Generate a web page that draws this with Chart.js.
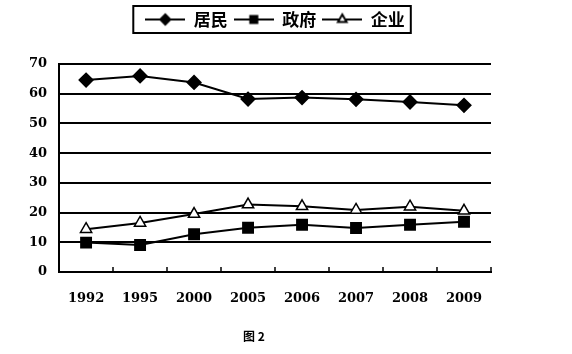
<!DOCTYPE html>
<html>
<head>
<meta charset="utf-8">
<script src="https://cdn.jsdelivr.net/npm/chart.js@4"></script>
<style>
body { margin: 0; background: #fff; }
#wrap { width: 572px; height: 354px; }
</style>
</head>
<body>
<div id="wrap"><canvas id="myChart"></canvas></div>
<script>
var years = ["1992", "1995", "2000", "2005", "2006", "2007", "2008", "2009"];
var jumin = [64.6, 66, 63.8, 58.2, 58.7, 58.1, 57.2, 56.1];
var zhengfu = [9.9, 9.1, 12.7, 14.9, 15.9, 14.8, 15.9, 16.9];
var qiye = [14.4, 16.5, 19.5, 22.7, 22.1, 20.9, 22, 20.6];
var names = ["居民", "政府", "企业"];
var yTicks = [0, 10, 20, 30, 40, 50, 60, 70];

var tickFont = { family: "'DejaVu Serif'", size: 13, weight: "bold" };

// little line + marker pictures for the legend
function legendIcon(style, fill, r) {
  var c = document.createElement('canvas');
  c.width = 40; c.height = 16;
  var ctx = c.getContext('2d');
  ctx.strokeStyle = 'black';
  ctx.lineWidth = 2;
  ctx.beginPath(); ctx.moveTo(0, 8); ctx.lineTo(40, 8); ctx.stroke();
  ctx.fillStyle = fill;
  Chart.helpers.drawPoint(ctx, { pointStyle: style, radius: r, borderWidth: 1.5, rotation: 0 }, 20, 8);
  return c;
}
var icons = [
  legendIcon('rectRot', 'black', 5),
  legendIcon('rect', 'black', 5),
  legendIcon('triangle', 'white', 5)
];

// push the plot down below the legend
var legendGap = {
  id: 'legendGap',
  beforeInit: function(chart) {
    var fit = chart.legend.fit;
    chart.legend.fit = function() {
      fit.call(this);
      this.height += 26;
    };
  }
};

// box round the legend + small ticks on the x axis
var extras = {
  id: 'extras',
  afterDraw: function(chart) {
    var ctx = chart.ctx, a = chart.chartArea;
    var hb = chart.legend.legendHitBoxes;
    var l = hb[0].left, r = hb[hb.length - 1].left + hb[hb.length - 1].width;
    var cy = hb[0].top + hb[0].height / 2;
    ctx.save();
    ctx.strokeStyle = 'black';
    ctx.lineWidth = 2;
    ctx.strokeRect(l - 12, cy - 13.5, r - l + 18, 27);

    var x = chart.scales.x;
    var step = x.getPixelForValue(1) - x.getPixelForValue(0);
    ctx.lineWidth = 1.5;
    for (var i = 0; i < years.length; i++) {
      var px = Math.round(x.getPixelForValue(i) + step / 2);
      ctx.beginPath();
      ctx.moveTo(px, a.bottom);
      ctx.lineTo(px, a.bottom - 5);
      ctx.stroke();
    }
    ctx.restore();
  }
};

new Chart("myChart", {
  type: "line",
  data: {
    labels: years,
    datasets: [{
      label: names[0],
      data: jumin,
      borderColor: "black",
      borderWidth: 2,
      pointStyle: "rectRot",
      pointRadius: 6.5,
      pointBackgroundColor: "black",
      pointBorderColor: "black"
    }, {
      label: names[1],
      data: zhengfu,
      borderColor: "black",
      borderWidth: 2,
      pointStyle: "rect",
      pointRadius: 7,
      pointBackgroundColor: "black",
      pointBorderColor: "black"
    }, {
      label: names[2],
      data: qiye,
      borderColor: "black",
      borderWidth: 2,
      pointStyle: "triangle",
      pointRadius: 6.5,
      pointBorderWidth: 1.5,
      pointBackgroundColor: "white",
      pointBorderColor: "black"
    }]
  },
  plugins: [legendGap, extras],
  options: {
    responsive: true,
    maintainAspectRatio: false,
    animation: false,
    layout: { padding: { top: 5, left: 17, right: 81, bottom: 0 } },
    scales: {
      x: {
        offset: true,
        grid: { display: false },
        border: { display: true, color: "black", width: 2 },
        ticks: { color: "black", font: tickFont, padding: 11, maxRotation: 0 }
      },
      y: {
        min: 0,
        max: 70,
        afterBuildTicks: function(s) {
          s.ticks = yTicks.map(function(v) { return { value: v }; });
        },
        grid: { color: "black", lineWidth: 2, drawTicks: false },
        border: { display: true, color: "black", width: 2 },
        ticks: { color: "black", font: tickFont, padding: 12 }
      }
    },
    plugins: {
      legend: {
        position: "top",
        fullSize: false,
        labels: {
          usePointStyle: true,
          pointStyleWidth: 40,
          padding: 6,
          color: "black",
          font: { family: "'Noto Sans CJK SC'", size: 17, weight: "bold" },
          generateLabels: function(chart) {
            var items = Chart.defaults.plugins.legend.labels.generateLabels(chart);
            items.forEach(function(it, i) { it.pointStyle = icons[i]; });
            return items;
          }
        }
      },
      title: {
        display: true,
        position: "bottom",
        text: "图 2",
        color: "black",
        font: { family: "'Noto Sans CJK SC'", size: 12, weight: "bold" },
        padding: { top: 12, bottom: 10 }
      },
      tooltip: { enabled: false }
    }
  }
});
</script>
</body>
</html>
